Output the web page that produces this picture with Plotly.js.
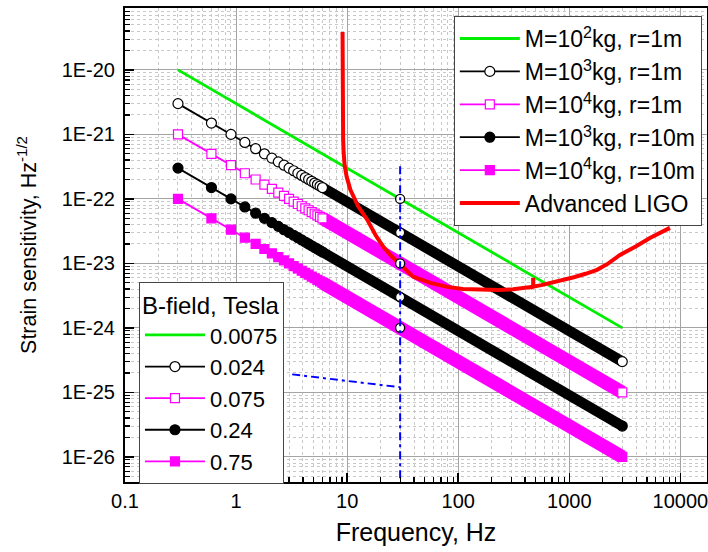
<!DOCTYPE html>
<html>
<head>
<meta charset="utf-8">
<script src="https://cdn.plot.ly/plotly-3.0.1.min.js"></script>
<style>html,body{margin:0;padding:0;background:#fff;}#chart{width:708px;height:552px;}</style>
</head>
<body>
<div id="chart"></div>
<script>
// ---------- data ----------
// discrete marker frequencies (Hz) where individual markers are distinguishable, plus the last marker
const markerFreq = [0.3,0.6,0.9,1.2,1.5,1.8,2.1,2.4,2.7,3.0,3.3,3.6,3.9,4.2,4.5,4.8,5.1,5.4,5.7,6.0,3000];

const m3r1Vals  = [3e-21,1.5e-21,1e-21,7.5e-22,6e-22,5e-22,4.29e-22,3.75e-22,3.33e-22,3e-22,2.73e-22,2.5e-22,2.31e-22,2.14e-22,2e-22,1.875e-22,1.76e-22,1.67e-22,1.58e-22,1.5e-22,3e-25];
const m4r1Vals  = [1e-21,5e-22,3.33e-22,2.5e-22,2e-22,1.67e-22,1.43e-22,1.25e-22,1.11e-22,1e-22,9.09e-23,8.33e-23,7.69e-23,7.14e-23,6.67e-23,6.25e-23,5.88e-23,5.56e-23,5.26e-23,5e-23,1e-25];
const m3r10Vals = [3e-22,1.5e-22,1e-22,7.5e-23,6e-23,5e-23,4.29e-23,3.75e-23,3.33e-23,3e-23,2.73e-23,2.5e-23,2.31e-23,2.14e-23,2e-23,1.875e-23,1.76e-23,1.67e-23,1.58e-23,1.5e-23,3e-26];
const m4r10Vals = [1e-22,5e-23,3.33e-23,2.5e-23,2e-23,1.67e-23,1.43e-23,1.25e-23,1.11e-23,1e-23,9.09e-24,8.33e-24,7.69e-24,7.14e-24,6.67e-24,6.25e-24,5.88e-24,5.56e-24,5.26e-24,5e-24,1e-26];

// dense part of each marker series (markers merge into a band)
const bandFreq = [6, 3000];
const m3r1Band  = [1.5e-22, 3e-25];
const m4r1Band  = [5e-23, 1e-25];
const m3r10Band = [1.5e-23, 3e-26];
const m4r10Band = [5e-24, 1e-26];

// M=10^2 kg, r=1 m
const m2r1Freq = [0.3, 3000];
const m2r1Vals = [1e-20, 1e-24];

// Advanced LIGO
const ligoFreq = [9.09,9.1,9.2,9.3,9.5,9.9,10.7,12.5,15.2,18,21.2,25,30.2,39.5,56.2,79.8,110,158,230,313,400,470,473,473,473,476,560,700,879,1100,1400,1778,2250,2860,4000,5320,8050];
const ligoVals = [3.88e-20,1.87e-21,8.5e-22,5.2e-22,3.3e-22,2.2e-22,1.38e-22,7.8e-23,4.72e-23,2.75e-23,1.8e-23,1.3e-23,9.5e-24,6.18e-24,4.99e-24,4.32e-24,4.0e-24,3.88e-24,3.86e-24,3.97e-24,4.15e-24,4.33e-24,4.35e-24,6.0e-24,4.35e-24,4.37e-24,4.6e-24,5.0e-24,5.5e-24,6.1e-24,6.9e-24,7.94e-24,1.0e-23,1.35e-23,1.85e-23,2.48e-23,3.55e-23];

// open circles on the 30 Hz line
const crossFreq = [30,30,30,30,30];
const crossVals = [1e-22,3e-23,1e-23,3e-24,1e-24];

// blue dash-dot guide lines
const guideVFreq = [30,30];
const guideVVals = [3.2e-22,1e-27];
const guideSFreq = [3.2,30];
const guideSVals = [1.9e-25,1.2e-25];

const legend1Names = ['M=10<sup>2</sup>kg, r=1m','M=10<sup>3</sup>kg, r=1m','M=10<sup>4</sup>kg, r=1m','M=10<sup>3</sup>kg, r=10m','M=10<sup>4</sup>kg, r=10m','Advanced LIGO'];
const legend2Names = ['0.0075','0.024','0.075','0.24','0.75'];
const legend2Title = 'B-field, Tesla';

const xTickVals = [0.1,1,10,100,1000,10000];
const xTickText = ['0.1','1','10','100','1000','10000'];
const yTickVals = [1e-26,1e-25,1e-24,1e-23,1e-22,1e-21,1e-20];
const yTickText = ['1E-26','1E-25','1E-24','1E-23','1E-22','1E-21','1E-20'];

// ---------- styles ----------
const GREEN = '#00ee00', MAG = '#ff00ff', BLK = '#000000', RED = '#ff0000', BLUE = '#0000ff';
const styles = [
  {color: GREEN, mode: 'lines'},
  {color: BLK, mode: 'lines+markers', symbol: 'circle', fill: '#ffffff', size: 10, band: 10.5},
  {color: MAG, mode: 'lines+markers', symbol: 'square', fill: '#ffffff', size: 9, band: 13.5},
  {color: BLK, mode: 'lines+markers', symbol: 'circle', fill: BLK, size: 10, band: 10.5},
  {color: MAG, mode: 'lines+markers', symbol: 'square', fill: MAG, size: 9, band: 13.5}
];

const traces = [];
const bandVals = [m3r1Band, m4r1Band, m3r10Band, m4r10Band];
const markVals = [m3r1Vals, m4r1Vals, m3r10Vals, m4r10Vals];

// bands first (underneath)
for (let i = 0; i < 4; i++) {
  const s = styles[i + 1];
  traces.push({x: bandFreq, y: bandVals[i], mode: 'lines', line: {color: s.color, width: s.band},
    showlegend: false, hoverinfo: 'skip'});
}
// marker series
for (let i = 0; i < 4; i++) {
  const s = styles[i + 1];
  traces.push({x: markerFreq, y: markVals[i], mode: 'lines+markers', name: legend1Names[i + 1],
    line: {color: s.color, width: 1.8},
    marker: {symbol: s.symbol, size: s.size, color: s.fill, line: {color: s.color, width: 1.2}}});
}
// green line
traces.push({x: m2r1Freq, y: m2r1Vals, mode: 'lines', name: legend1Names[0],
  line: {color: GREEN, width: 2.8}});
// LIGO
traces.push({x: ligoFreq, y: ligoVals, mode: 'lines', name: legend1Names[5],
  line: {color: RED, width: 4}});
// crossing circles
traces.push({x: crossFreq, y: crossVals, mode: 'markers', showlegend: false,
  marker: {symbol: 'circle', size: 9, color: '#ffffff', line: {color: '#000', width: 1.3}}});
// guides
traces.push({x: guideVFreq, y: guideVVals, mode: 'lines', showlegend: false,
  line: {color: BLUE, width: 2, dash: '8px,4px,3px,4px'}});
traces.push({x: guideSFreq, y: guideSVals, mode: 'lines', showlegend: false,
  line: {color: BLUE, width: 2, dash: '8px,4px,3px,4px'}});

// legend-2 entries (B-field)
for (let i = 0; i < 5; i++) {
  const s = styles[i];
  const t = {x: [null], y: [null], mode: s.mode, name: legend2Names[i], legend: 'legend2',
    line: {color: s.color, width: i === 0 ? 2.8 : 1.8}};
  if (i > 0) t.marker = {symbol: s.symbol, size: s.size, color: s.fill, line: {color: s.color, width: 1.2}};
  traces.push(t);
}

// legend 1 order: green first
const order = [8, 4, 5, 6, 7, 9];
order.forEach((idx, k) => { traces[idx].legendrank = k + 1; });

// minor tick positions (2..9 in each decade)
const xMinor = [], yMinor = [];
for (let d = -1; d <= 4; d++) for (let k = 2; k <= 9; k++) xMinor.push(k * Math.pow(10, d));
for (let d = -27; d <= -19; d++) for (let k = 2; k <= 9; k++) yMinor.push(k * Math.pow(10, d));

const FONT = 'Liberation Sans, Arial, sans-serif';
const layout = {
  width: 708, height: 552,
  margin: {l: 125, r: 1, t: 8, b: 70},
  paper_bgcolor: '#fff', plot_bgcolor: '#fff',
  font: {family: FONT, color: '#000'},
  showlegend: true,
  xaxis: {
    type: 'log', range: [-1, 4.24],
    tickmode: 'array', tickvals: xTickVals, ticktext: xTickText,
    ticks: 'inside', ticklen: 9, tickwidth: 1.5, tickcolor: '#000',
    tickfont: {size: 20, family: FONT}, ticklabelstandoff: 0, ticklabeloverflow: 'allow',
    showline: true, linewidth: 2, linecolor: '#000', mirror: true,
    showgrid: true, gridcolor: '#a4a4a4', gridwidth: 1,
    zeroline: false,
    minor: {tickmode: 'array', tickvals: xMinor, ticks: 'inside', ticklen: 5, tickwidth: 1.2, tickcolor: '#000',
      showgrid: true, gridcolor: '#c8c8c8', griddash: 'dot', gridwidth: 1},
    title: {text: 'Frequency, Hz', font: {size: 25, family: FONT}, standoff: 12}
  },
  yaxis: {
    type: 'log', range: [-26.39, -19.04],
    tickmode: 'array', tickvals: yTickVals, ticktext: yTickText,
    ticks: 'inside', ticklen: 9, tickwidth: 1.5, tickcolor: '#000',
    tickfont: {size: 20, family: FONT}, ticklabelstandoff: 4, ticklabeloverflow: 'allow',
    showline: true, linewidth: 2, linecolor: '#000', mirror: true,
    showgrid: true, gridcolor: '#a4a4a4', gridwidth: 1,
    zeroline: false,
    minor: {tickmode: 'array', tickvals: yMinor, ticks: 'inside', ticklen: 5, tickwidth: 1.2, tickcolor: '#000',
      showgrid: true, gridcolor: '#c8c8c8', griddash: 'dot', gridwidth: 1},
    title: {text: 'Strain sensitivity, Hz<sup>-1/2</sup>', font: {size: 21.5, family: FONT}, standoff: 19}
  },
  legend: {
    x: 0.565, y: 0.983, xanchor: 'left', yanchor: 'top',
    bgcolor: '#fff', bordercolor: '#444', borderwidth: 1,
    font: {size: 23, family: FONT}, traceorder: 'normal',
    itemwidth: 60
  },
  legend2: {
    x: 0.024, y: 0.422, xanchor: 'left', yanchor: 'top',
    bgcolor: '#fff', bordercolor: '#444', borderwidth: 1,
    font: {size: 22, family: FONT}, traceorder: 'normal',
    itemwidth: 60,
    title: {text: legend2Title, font: {size: 24, family: FONT}}
  }
};

Plotly.newPlot('chart', traces, layout, {displayModeBar: false, staticPlot: true});
</script>
</body>
</html>
